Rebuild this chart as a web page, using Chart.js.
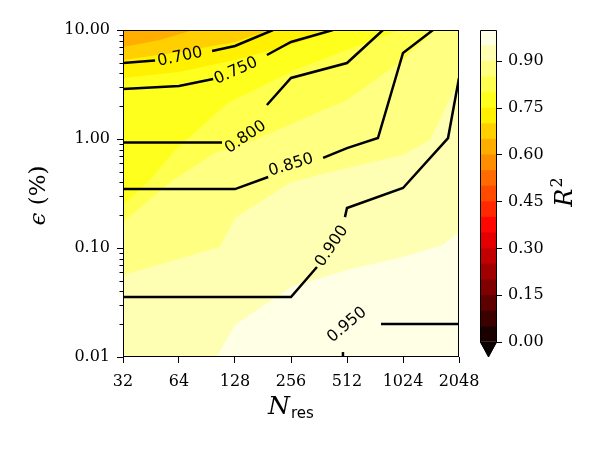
<!DOCTYPE html>
<html>
<head>
<meta charset="utf-8">
<script src="https://cdn.jsdelivr.net/npm/chart.js@4"></script>
<style>
  body { margin: 0; background: #fff; }
  #wrap { position: relative; width: 600px; height: 450px; }
  #main, #cbar { position: absolute; top: 0; }
  #main { left: 0; }
  #cbar { left: 470px; }
</style>
</head>
<body>
<div id="wrap">
  <canvas id="main" width="600" height="450"></canvas>
  <canvas id="cbar" width="130" height="450"></canvas>
</div>
<script>
// axes
const xTicks = [32, 64, 128, 256, 512, 1024, 2048];
const yTicks = [0.01, 0.1, 1, 10];
const yTickLabels = ['0.01', '0.10', '1.00', '10.00'];
const yMinorTicks = [0.02, 0.03, 0.04, 0.05, 0.06, 0.07, 0.08, 0.09,
                     0.2, 0.3, 0.4, 0.5, 0.6, 0.7, 0.8, 0.9,
                     2, 3, 4, 5, 6, 7, 8, 9];

// colour bar
const cbLevels = [0, 0.05, 0.10, 0.15, 0.20, 0.25, 0.30, 0.35, 0.40, 0.45, 0.50,
                  0.55, 0.60, 0.65, 0.70, 0.75, 0.80, 0.85, 0.90, 0.95, 1.00];
const cbTicks = [0, 0.15, 0.30, 0.45, 0.60, 0.75, 0.90];

// filled contours: edge where R^2 crosses each level, [N_res, eps %]
const fillLevels = [0.65, 0.70, 0.75, 0.80, 0.85, 0.90, 0.95];
const edge065 = [[32, 6.98], [50.6, 8.09], [76.1, 10], [256, 20]];
const edge070 = [[32, 5.31], [64, 6.28], [128, 7.76], [197, 10], [512, 20]];
const edge075 = [[32, 3.63], [64, 4.12], [128, 5.31], [256, 7.28], [452, 10], [1024, 20]];
const edge080 = [[32, 0.248], [44.7, 0.42], [60.9, 0.79], [117, 2.14], [269, 4.3], [512, 6.56], [986, 10], [2048, 20]];
const edge085 = [[32, 0.173], [59.4, 0.42], [99.8, 0.745], [164, 0.98], [286, 1.49], [512, 2.28], [1024, 5.31], [1523, 10], [2048, 14]];
const edge090 = [[32, 0.0565], [106, 0.102], [128, 0.188], [256, 0.404], [512, 0.542], [1024, 0.713], [1430, 0.98], [2048, 3.47]];
const edge095 = [[32, 0.005], [102, 0.01], [128, 0.0197], [256, 0.0438], [512, 0.0628], [1024, 0.0826], [1680, 0.107], [2048, 0.14]];
const fillEdges = [edge065, edge070, edge075, edge080, edge085, edge090, edge095];

// contour lines (segments, broken where the labels sit)
const line070 = [[[32, 4.98], [47.6, 5.25]], [[96.4, 6.41], [128, 7.13], [205, 10]]];
const line075 = [[[32, 2.88], [64, 3.06], [97.7, 3.55]], [[190, 5.90], [256, 7.76], [430, 10]]];
const line080 = [[[32, 0.93], [64, 0.93], [109, 0.93]], [[190, 2.05], [256, 3.63], [512, 4.98], [799, 10]]];
const line085 = [[[32, 0.347], [64, 0.347], [128, 0.347], [193, 0.448]], [[381, 0.67], [512, 0.826], [751, 1.02], [1024, 6.15], [1484, 10]]];
const line090 = [[[32, 0.0355], [256, 0.0355], [353, 0.067]], [[499, 0.192], [512, 0.233], [1024, 0.355], [1788, 1.02], [2048, 3.63]]];
const line095 = [[[487, 0.009], [487, 0.0111]], [[780, 0.0201], [2048, 0.0201]]];
const contourLines = [line070, line075, line080, line085, line090, line095];

// inline labels: text, N_res, eps, angle
const contourLabels = [
  ['0.700', 64.8, 5.65, -12],
  ['0.750', 129.6, 4.21, -24],
  ['0.800', 146, 1.04, -34],
  ['0.850', 256, 0.577, -17],
  ['0.900', 425, 0.104, -56],
  ['0.950', 512, 0.0197, -40]
];

function hot(v) {
  const r = v < 0.365079 ? 0.0416 + (1 - 0.0416) * v / 0.365079 : 1;
  const g = v < 0.365079 ? 0 : (v < 0.746032 ? (v - 0.365079) / (0.746032 - 0.365079) : 1);
  const b = v < 0.746032 ? 0 : (v - 0.746032) / (1 - 0.746032);
  return 'rgb(' + Math.round(r * 255) + ',' + Math.round(g * 255) + ',' + Math.round(b * 255) + ')';
}

const toXY = pts => pts.map(p => ({ x: p[0], y: p[1] }));

const datasets = [];
fillLevels.forEach((lev, i) => {
  datasets.push({
    data: toXY(fillEdges[i]),
    borderColor: 'rgba(0,0,0,0)',
    borderWidth: 0,
    pointRadius: 0,
    fill: 'end',
    backgroundColor: hot(lev - 0.025),
    order: 10 + i
  });
});
contourLines.forEach(segs => segs.forEach(seg => {
  datasets.push({
    data: toXY(seg),
    borderColor: '#000',
    borderWidth: 2.5,
    pointRadius: 0,
    fill: false,
    clip: 0,
    order: 0
  });
}));

const serif = 'DejaVu Serif';

const mainDecor = {
  id: 'mainDecor',
  beforeDatasetsDraw(chart) {
    const { ctx, chartArea: a } = chart;
    ctx.save();
    ctx.fillStyle = hot(0.975);
    ctx.fillRect(a.left, a.top, a.width, a.height);
    ctx.restore();
  },
  afterDatasetsDraw(chart) {
    const { ctx } = chart;
    const xs = chart.scales.x, ys = chart.scales.y;
    ctx.save();
    ctx.fillStyle = '#000';
    ctx.font = '16px "DejaVu Sans"';
    ctx.textAlign = 'center';
    ctx.textBaseline = 'middle';
    contourLabels.forEach(([t, x, y, ang]) => {
      ctx.save();
      ctx.translate(xs.getPixelForValue(x), ys.getPixelForValue(y));
      ctx.rotate(ang * Math.PI / 180);
      ctx.fillText(t, 0, 0);
      ctx.restore();
    });
    ctx.restore();
  },
  afterDraw(chart) {
    const { ctx, chartArea: a } = chart;
    const ys = chart.scales.y;
    ctx.save();
    ctx.strokeStyle = '#000';
    ctx.lineWidth = 1;
    ctx.strokeRect(a.left + 0.5, a.top + 0.5, a.width - 1, a.height - 1);
    // minor ticks on the epsilon axis
    ctx.beginPath();
    yMinorTicks.forEach(v => {
      const py = Math.round(ys.getPixelForValue(v)) + 0.5;
      ctx.moveTo(a.left - 3.5, py);
      ctx.lineTo(a.left, py);
    });
    ctx.stroke();

    ctx.fillStyle = '#000';
    // x title: N_res
    ctx.font = 'italic 25px "' + serif + '"';
    const wN = ctx.measureText('N').width;
    ctx.font = '15px "DejaVu Sans"';
    const wR = ctx.measureText('res').width;
    const x0 = (a.left + a.right) / 2 - (wN + wR + 1) / 2;
    ctx.textBaseline = 'alphabetic';
    ctx.textAlign = 'left';
    ctx.font = 'italic 25px "' + serif + '"';
    ctx.fillText('N', x0, 414);
    ctx.font = '15px "DejaVu Sans"';
    ctx.fillText('res', x0 + wN + 1, 418);

    // y title: eps (%)
    ctx.save();
    ctx.translate(45, (a.top + a.bottom) / 2 + 2);
    ctx.rotate(-Math.PI / 2);
    ctx.font = 'italic 23px "' + serif + '"';
    const wE = ctx.measureText('\u03f5').width;
    ctx.font = '23px "' + serif + '"';
    const wP = ctx.measureText(' (%)').width;
    ctx.font = 'italic 23px "' + serif + '"';
    ctx.fillText('\u03f5', -(wE + wP) / 2, 0);
    ctx.font = '23px "' + serif + '"';
    ctx.fillText(' (%)', -(wE + wP) / 2 + wE, 0);
    ctx.restore();
    ctx.restore();
  }
};

new Chart(document.getElementById('main'), {
  type: 'line',
  data: { datasets: datasets },
  options: {
    responsive: false,
    animation: false,
    events: [],
    layout: { padding: { top: 30, right: 141, left: 0, bottom: 0 } },
    plugins: { legend: { display: false }, tooltip: { enabled: false } },
    scales: {
      x: {
        type: 'logarithmic',
        min: 32, max: 2048,
        afterBuildTicks: s => { s.ticks = xTicks.map(v => ({ value: v })); },
        afterFit: s => { s.height = 93; },
        ticks: {
          callback: v => String(v),
          color: '#000',
          font: { family: serif, size: 16 },
          maxRotation: 0,
          padding: 9
        },
        grid: { drawOnChartArea: false, tickLength: 6, color: '#000' },
        border: { display: false }
      },
      y: {
        type: 'logarithmic',
        min: 0.01, max: 10,
        afterBuildTicks: s => { s.ticks = yTicks.map(v => ({ value: v })); },
        afterFit: s => { s.width = 123; },
        ticks: {
          callback: (v, i) => yTickLabels[yTicks.indexOf(v)],
          color: '#000',
          font: { family: serif, size: 16 },
          padding: 7
        },
        grid: { drawOnChartArea: false, tickLength: 6, color: '#000' },
        border: { display: false }
      }
    }
  },
  plugins: [mainDecor]
});

// colour bar
const cbMin = -0.048;
const cbSets = [];
for (let i = 0; i < cbLevels.length - 1; i++) {
  cbSets.push({
    data: [[cbLevels[i], cbLevels[i + 1]]],
    backgroundColor: hot((cbLevels[i] + cbLevels[i + 1]) / 2),
    borderWidth: 0,
    grouped: false,
    barPercentage: 1,
    categoryPercentage: 1
  });
}

const cbDecor = {
  id: 'cbDecor',
  afterDatasetsDraw(chart) {
    const { ctx, chartArea: a } = chart;
    const ys = chart.scales.y;
    const y0 = ys.getPixelForValue(0), y1 = ys.getPixelForValue(1), yt = ys.getPixelForValue(cbMin);
    const cx = (a.left + a.right) / 2;
    ctx.save();
    ctx.fillStyle = hot(0);
    ctx.beginPath();
    ctx.moveTo(a.left, y0);
    ctx.lineTo(a.right, y0);
    ctx.lineTo(cx, yt);
    ctx.closePath();
    ctx.fill();
    ctx.strokeStyle = '#000';
    ctx.lineWidth = 1;
    ctx.beginPath();
    ctx.moveTo(a.left + 0.5, y1 + 0.5);
    ctx.lineTo(a.right - 0.5, y1 + 0.5);
    ctx.lineTo(a.right - 0.5, y0);
    ctx.lineTo(cx, yt);
    ctx.lineTo(a.left + 0.5, y0);
    ctx.closePath();
    ctx.stroke();
    ctx.restore();
  },
  afterDraw(chart) {
    const { ctx } = chart;
    ctx.save();
    ctx.fillStyle = '#000';
    ctx.translate(102, 192);
    ctx.rotate(-Math.PI / 2);
    ctx.font = 'italic 24px "' + serif + '"';
    const wR = ctx.measureText('R').width;
    ctx.font = '16px "' + serif + '"';
    const w2 = ctx.measureText('2').width;
    const x0 = -(wR + w2 + 1) / 2;
    ctx.font = 'italic 24px "' + serif + '"';
    ctx.fillText('R', x0, 0);
    ctx.font = '16px "' + serif + '"';
    ctx.fillText('2', x0 + wR + 1, -10);
    ctx.restore();
  }
};

new Chart(document.getElementById('cbar'), {
  type: 'bar',
  data: { labels: [''], datasets: cbSets },
  options: {
    responsive: false,
    animation: false,
    events: [],
    layout: { padding: { top: 30, left: 10, right: 0, bottom: 93 } },
    plugins: { legend: { display: false }, tooltip: { enabled: false } },
    scales: {
      x: { display: false },
      y: {
        position: 'right',
        min: cbMin, max: 1,
        afterBuildTicks: s => { s.ticks = cbTicks.map(v => ({ value: v })); },
        afterFit: s => { s.width = 103; },
        ticks: {
          callback: v => v.toFixed(2),
          color: '#000',
          font: { family: serif, size: 16 },
          padding: 6
        },
        grid: { drawOnChartArea: false, tickLength: 5, color: '#000' },
        border: { display: false }
      }
    }
  },
  plugins: [cbDecor]
});
</script>
</body>
</html>
